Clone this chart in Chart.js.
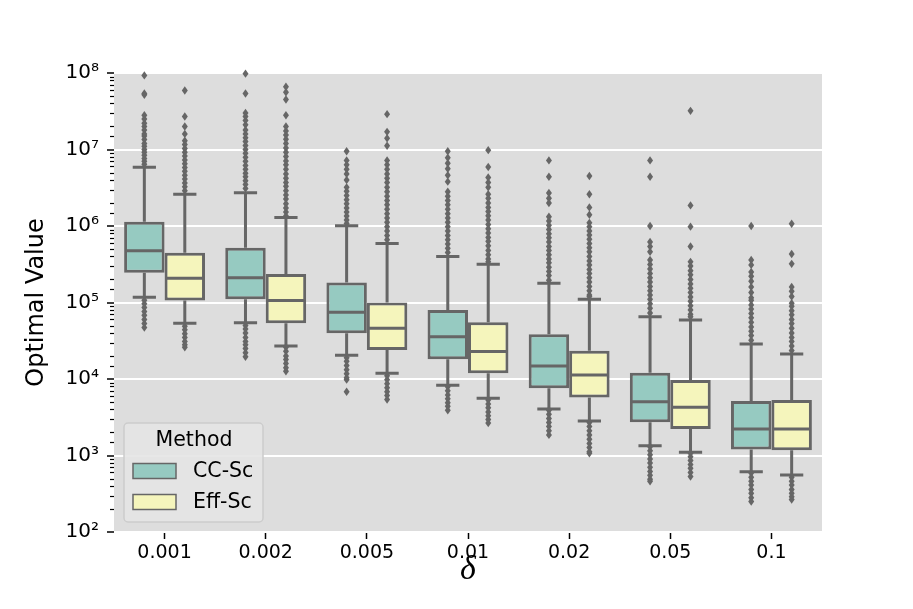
<!DOCTYPE html>
<html>
<head>
<meta charset="utf-8">
<script src="https://cdn.jsdelivr.net/npm/chart.js@4.4.0/dist/chart.umd.min.js"></script>
<style>
  html, body { margin: 0; padding: 0; background: #fff; }
  #wrap { width: 913px; height: 609px; }
</style>
</head>
<body>
<div id="wrap"><canvas id="chart" width="913" height="609"></canvas></div>
<script>
// categories (delta) and methods
const deltas = ['0.001', '0.002', '0.005', '0.01', '0.02', '0.05', '0.1'];
const methods = ['CC-Sc', 'Eff-Sc'];

// box statistics
const ccQ1  = [2.45e5, 1.1e5, 3.95e4, 1.81e4, 7.55e3, 2.72e3, 1.2e3];
const ccMed = [4.75e5, 2.11e5, 7.45e4, 3.57e4, 1.48e4, 5.05e3, 2.22e3];
const ccQ3  = [1.14e6, 5.2e5, 1.82e5, 7.98e4, 3.84e4, 1.21e4, 5.15e3];
const ccLo  = [1.17e5, 5.45e4, 2.04e4, 8.3e3, 4.06e3, 1.34e3, 6.15e2];
const ccHi  = [5.85e6, 2.73e6, 1.01e6, 3.98e5, 1.78e5, 6.53e4, 2.87e4];

const effQ1  = [1.06e5, 5.35e4, 2.39e4, 1.19e4, 5.75e3, 2.22e3, 1.17e3];
const effMed = [2.07e5, 1.06e5, 4.6e4, 2.28e4, 1.13e4, 4.27e3, 2.22e3];
const effQ3  = [4.47e5, 2.36e5, 1.0e5, 5.5e4, 2.34e4, 9.7e3, 5.3e3];
const effLo  = [5.35e4, 2.7e4, 1.19e4, 5.6e3, 2.82e3, 1.1e3, 5.55e2];
const effHi  = [2.6e6, 1.29e6, 5.9e5, 3.16e5, 1.1e5, 5.9e4, 2.12e4];

// outliers (fliers), one list per delta
const ccOut = [
  [9.3e7, 5.4e7, 5.2e7, 2.8e7, 2.5e7, 2.2e7, 2.0e7, 1.8e7, 1.6e7, 1.5e7, 1.35e7, 1.2e7, 1.1e7, 1.0e7, 9.2e6, 8.4e6, 7.6e6, 7.0e6, 6.4e6,
   1.07e5, 9.6e4, 8.6e4, 7.6e4, 6.8e4, 6.0e4, 5.3e4, 4.7e4],
  [9.8e7, 5.4e7, 3.0e7, 2.7e7, 2.4e7, 2.1e7, 1.8e7, 1.6e7, 1.42e7, 1.27e7, 1.13e7, 1.0e7, 8.9e6, 7.9e6, 7.0e6, 6.2e6, 5.5e6, 4.9e6, 4.4e6, 3.9e6, 3.5e6, 3.1e6,
   5.0e4, 4.5e4, 4.0e4, 3.5e4, 3.1e4, 2.8e4, 2.5e4, 2.2e4, 1.95e4],
  [9.5e6, 7.2e6, 6.3e6, 5.5e6, 4.8e6, 4.0e6, 3.2e6, 2.85e6, 2.5e6, 2.2e6, 1.95e6, 1.72e6, 1.52e6, 1.35e6, 1.2e6, 1.08e6,
   1.9e4, 1.7e4, 1.5e4, 1.32e4, 1.17e4, 1.04e4, 9.8e3, 6.8e3],
  [9.5e6, 7.8e6, 6.6e6, 5.6e6, 4.6e6, 3.8e6, 2.8e6, 2.45e6, 2.15e6, 1.9e6, 1.66e6, 1.45e6, 1.27e6, 1.12e6, 9.8e5, 8.6e5, 7.5e5, 6.6e5, 5.8e5, 5.1e5, 4.5e5,
   7.9e3, 7.0e3, 6.2e3, 5.5e3, 4.9e3, 4.4e3, 3.9e3],
  [7.2e6, 4.4e6, 2.7e6, 2.3e6, 2.0e6, 1.32e6, 1.16e6, 1.02e6, 9.0e5, 7.9e5, 7.0e5, 6.2e5, 5.4e5, 4.8e5, 4.2e5, 3.7e5, 3.3e5, 2.9e5, 2.55e5, 2.25e5, 1.95e5,
   3.9e3, 3.45e3, 3.05e3, 2.7e3, 2.4e3, 2.1e3, 1.86e3],
  [7.2e6, 4.4e6, 1.0e6, 6.2e5, 5.4e5, 4.6e5, 3.6e5, 3.15e5, 2.75e5, 2.4e5, 2.1e5, 1.85e5, 1.62e5, 1.42e5, 1.25e5, 1.1e5, 9.6e4, 8.4e4, 7.3e4,
   1.3e3, 1.15e3, 1.02e3, 9.0e2, 8.0e2, 7.0e2, 6.2e2, 5.5e2, 4.9e2, 4.6e2],
  [1.0e6, 3.6e5, 3.1e5, 2.5e5, 2.2e5, 1.9e5, 1.6e5, 1.35e5, 1.15e5, 1.07e5, 9.3e4, 8.2e4, 7.2e4, 6.3e4, 5.5e4, 4.8e4, 4.2e4, 3.7e4, 3.2e4,
   5.9e2, 5.2e2, 4.6e2, 4.1e2, 3.6e2, 3.2e2, 2.8e2, 2.5e2]
];
const effOut = [
  [5.9e7, 2.7e7, 2.0e7, 1.6e7, 1.3e7, 1.16e7, 1.03e7, 9.2e6, 8.2e6, 7.3e6, 6.5e6, 5.8e6, 5.2e6, 4.6e6, 4.1e6, 3.65e6, 3.25e6, 2.9e6,
   4.9e4, 4.4e4, 3.9e4, 3.5e4, 3.1e4, 2.8e4, 2.6e4],
  [6.6e7, 5.6e7, 4.5e7, 2.8e7, 2.0e7, 1.75e7, 1.55e7, 1.36e7, 1.2e7, 1.05e7, 9.2e6, 8.1e6, 7.1e6, 6.3e6, 5.5e6, 4.8e6, 4.2e6, 3.7e6, 3.3e6, 2.9e6, 2.55e6, 2.25e6, 1.95e6, 1.72e6, 1.52e6, 1.35e6,
   2.6e4, 2.3e4, 2.0e4, 1.8e4, 1.6e4, 1.4e4, 1.26e4],
  [2.9e7, 1.7e7, 1.4e7, 1.12e7, 7.2e6, 6.3e6, 5.5e6, 4.8e6, 4.2e6, 3.7e6, 3.2e6, 2.8e6, 2.45e6, 2.15e6, 1.9e6, 1.66e6, 1.45e6, 1.27e6, 1.12e6, 9.8e5, 8.6e5, 7.5e5, 6.6e5,
   1.1e4, 9.8e3, 8.7e3, 7.7e3, 6.8e3, 6.1e3, 5.4e3],
  [9.8e6, 5.9e6, 4.3e6, 3.7e6, 3.2e6, 2.6e6, 2.3e6, 2.0e6, 1.75e6, 1.55e6, 1.36e6, 1.2e6, 1.05e6, 9.2e5, 8.1e5, 7.1e5, 6.3e5, 5.5e5, 4.8e5, 4.2e5, 3.7e5, 3.4e5,
   5.3e3, 4.7e3, 4.2e3, 3.7e3, 3.3e3, 2.95e3, 2.65e3],
  [4.5e6, 2.6e6, 1.75e6, 1.4e6, 1.1e6, 9.8e5, 8.6e5, 7.6e5, 6.7e5, 5.9e5, 5.2e5, 4.6e5, 4.0e5, 3.5e5, 3.1e5, 2.7e5, 2.4e5, 2.1e5, 1.85e5, 1.62e5, 1.42e5, 1.25e5, 1.2e5,
   2.7e3, 2.4e3, 2.1e3, 1.85e3, 1.63e3, 1.44e3, 1.27e3, 1.12e3, 1.07e3],
  [3.2e7, 1.86e6, 9.8e5, 5.4e5, 3.4e5, 3.0e5, 2.6e5, 2.3e5, 2.0e5, 1.75e5, 1.54e5, 1.35e5, 1.18e5, 1.04e5, 9.1e4, 8.0e4, 7.0e4, 6.5e4,
   1.07e3, 9.6e2, 8.6e2, 7.6e2, 6.8e2, 6.0e2, 5.3e2],
  [1.07e6, 4.3e5, 3.2e5, 1.6e5, 1.4e5, 1.2e5, 9.8e4, 8.9e4, 7.8e4, 6.9e4, 6.0e4, 5.3e4, 4.6e4, 4.0e4, 3.5e4, 3.1e4, 2.7e4, 2.35e4,
   5.2e2, 4.6e2, 4.1e2, 3.6e2, 3.2e2, 2.9e2, 2.65e2]
];

const FONT = "'DejaVu Sans', sans-serif";
const LINE = '#666666';
const colors = ['#96cac1', '#f5f5bc'];
const stats = [
  { med: ccMed, lo: ccLo, hi: ccHi, q1: ccQ1, q3: ccQ3, out: ccOut },
  { med: effMed, lo: effLo, hi: effHi, q1: effQ1, q3: effQ3, out: effOut }
];
const sup = ['⁰', '¹', '²', '³', '⁴', '⁵', '⁶', '⁷', '⁸', '⁹'];

function isDecade(v) {
  const e = Math.log10(v);
  return Math.abs(e - Math.round(e)) < 1e-6;
}

// grey plot background
const plotBackground = {
  id: 'plotBackground',
  beforeDraw(chart) {
    const { ctx, chartArea: a } = chart;
    ctx.save();
    ctx.fillStyle = '#dddddd';
    ctx.fillRect(a.left, a.top, a.right - a.left, a.bottom - a.top);
    ctx.restore();
  }
};

// whiskers, caps, medians and fliers on top of the bars
const boxParts = {
  id: 'boxParts',
  afterDatasetsDraw(chart) {
    const { ctx, chartArea: a } = chart;
    const ys = chart.scales.y;
    ctx.save();
    ctx.beginPath();
    ctx.rect(a.left, a.top - 5, a.right - a.left, a.bottom - a.top + 5);
    ctx.clip();
    stats.forEach((s, d) => {
      const meta = chart.getDatasetMeta(d);
      meta.data.forEach((bar, i) => {
        const x = bar.x;
        const w = bar.width;
        const yq1 = ys.getPixelForValue(s.q1[i]);
        const yq3 = ys.getPixelForValue(s.q3[i]);
        const ylo = ys.getPixelForValue(s.lo[i]);
        const yhi = ys.getPixelForValue(s.hi[i]);
        const ymed = ys.getPixelForValue(s.med[i]);
        const cap = w / 4 + 1.5;
        ctx.strokeStyle = LINE;
        ctx.lineWidth = 3;
        ctx.lineCap = 'butt';
        ctx.beginPath();
        ctx.moveTo(x, yq3); ctx.lineTo(x, yhi);
        ctx.moveTo(x, yq1); ctx.lineTo(x, ylo);
        ctx.moveTo(x - cap, yhi); ctx.lineTo(x + cap, yhi);
        ctx.moveTo(x - cap, ylo); ctx.lineTo(x + cap, ylo);
        ctx.moveTo(x - w / 2 + 1.5, ymed); ctx.lineTo(x + w / 2 - 1.5, ymed);
        ctx.stroke();
        // thin diamonds
        ctx.fillStyle = LINE;
        s.out[i].forEach(v => {
          const py = ys.getPixelForValue(v);
          ctx.beginPath();
          ctx.moveTo(x, py - 4.2);
          ctx.lineTo(x + 3, py);
          ctx.lineTo(x, py + 4.2);
          ctx.lineTo(x - 3, py);
          ctx.closePath();
          ctx.fill();
        });
      });
    });
    ctx.restore();
  }
};

// minor log ticks on the y axis
const minorTicks = {
  id: 'minorTicks',
  afterDraw(chart) {
    const { ctx, chartArea: a } = chart;
    const ys = chart.scales.y;
    ctx.save();
    ctx.strokeStyle = '#000';
    ctx.lineWidth = 1.2;
    ys.ticks.forEach(t => {
      if (isDecade(t.value)) return;
      const py = Math.round(ys.getPixelForValue(t.value)) + 0.5;
      ctx.beginPath();
      ctx.moveTo(a.left - 4, py);
      ctx.lineTo(a.left, py);
      ctx.stroke();
    });
    ctx.restore();
  }
};

// legend box in the lower left of the plot
const methodLegend = {
  id: 'methodLegend',
  afterDraw(chart) {
    const { ctx, chartArea: a } = chart;
    const x0 = a.left + 10, y0 = a.bottom - 109, w = 139, h = 99;
    ctx.save();
    ctx.fillStyle = 'rgba(228,228,228,0.9)';
    ctx.strokeStyle = '#cccccc';
    ctx.lineWidth = 1.5;
    ctx.beginPath();
    ctx.roundRect(x0, y0, w, h, 4);
    ctx.fill();
    ctx.stroke();
    ctx.fillStyle = '#000';
    ctx.font = '20.5px ' + FONT;
    ctx.textAlign = 'center';
    ctx.textBaseline = 'middle';
    ctx.fillText('Method', x0 + 70, y0 + 18);
    ctx.textAlign = 'left';
    methods.forEach((m, k) => {
      const py = y0 + 48 + k * 31;
      ctx.fillStyle = colors[k];
      ctx.fillRect(x0 + 9, py - 7.5, 43, 15);
      ctx.strokeStyle = LINE;
      ctx.lineWidth = 1.5;
      ctx.strokeRect(x0 + 9, py - 7.5, 43, 15);
      ctx.fillStyle = '#000';
      ctx.fillText(m, x0 + 69, py + 1);
    });
    ctx.restore();
  }
};

Chart.defaults.font.family = FONT;
Chart.defaults.color = '#000';

const chart = new Chart(document.getElementById('chart'), {
  type: 'bar',
  data: {
    labels: deltas,
    datasets: stats.map((s, d) => ({
      label: methods[d],
      data: deltas.map((_, i) => [s.q1[i], s.q3[i]]),
      backgroundColor: colors[d],
      borderColor: LINE,
      borderWidth: 3,
      borderSkipped: false,
      categoryPercentage: 0.8,
      barPercentage: 1.0
    }))
  },
  options: {
    responsive: false,
    animation: false,
    events: [],
    layout: { padding: { top: 73, right: 91, left: 0, bottom: 0 } },
    plugins: {
      legend: { display: false },
      tooltip: { enabled: false }
    },
    scales: {
      x: {
        afterFit: s => { s.height = 77; },
        border: { display: false },
        grid: {
          offset: false,
          drawOnChartArea: false,
          drawTicks: true,
          tickLength: 7,
          tickWidth: 1.5,
          tickColor: '#000'
        },
        ticks: { font: { size: 19 }, padding: 3 },
        title: {
          display: true,
          text: 'δ',
          font: { family: "'Liberation Serif', serif", style: 'italic', size: 34 },
          padding: { top: 0, bottom: 19 }
        }
      },
      y: {
        type: 'logarithmic',
        min: 100,
        max: 1e8,
        afterFit: s => { s.width = 114; },
        border: { display: false },
        grid: {
          color: c => (c.tick && isDecade(c.tick.value) ? '#ffffff' : 'rgba(0,0,0,0)'),
          lineWidth: 2,
          tickColor: c => (c.tick && isDecade(c.tick.value) ? '#000' : 'rgba(0,0,0,0)'),
          tickLength: 7,
          tickWidth: 1.5
        },
        ticks: {
          autoSkip: false,
          font: { size: 20 },
          padding: 8,
          callback: v => (isDecade(v) ? '10' + sup[Math.round(Math.log10(v))] : '')
        },
        title: {
          display: true,
          text: 'Optimal Value',
          font: { size: 24 },
          padding: { top: 22, bottom: 0 }
        }
      }
    }
  },
  plugins: [plotBackground, boxParts, minorTicks, methodLegend]
});
</script>
</body>
</html>
